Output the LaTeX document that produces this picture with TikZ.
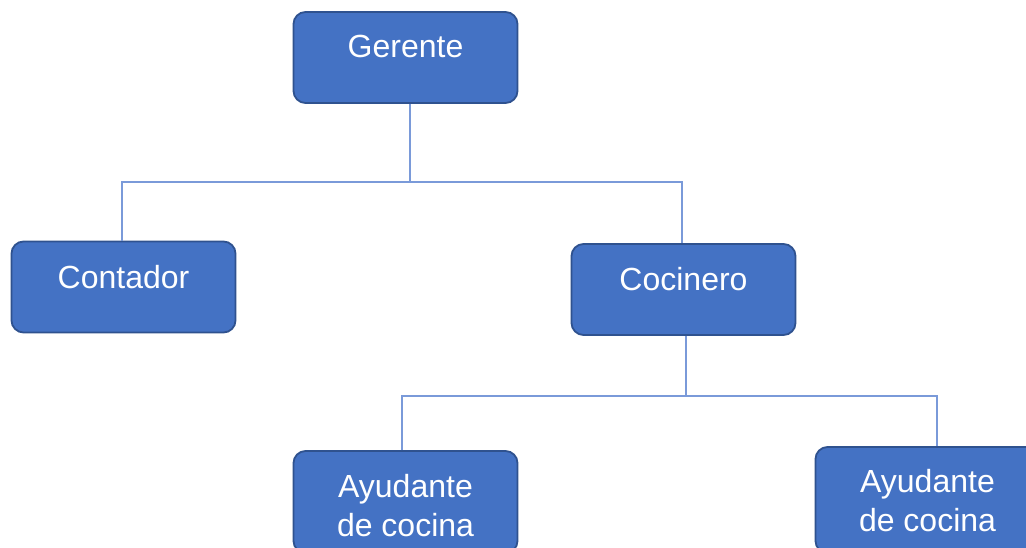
\documentclass[tikz,border=0pt]{standalone}
\usepackage{fontspec}
\setmainfont{Liberation Sans}
\definecolor{boxfill}{HTML}{4472C4}
\definecolor{boxedge}{HTML}{2F528F}
\definecolor{conncol}{HTML}{7A9AD9}
\begin{document}
\begin{tikzpicture}[x=1pt,y=-1pt,
  box/.style={draw=boxedge,fill=boxfill,line width=1.8pt,rounded corners=12pt,
    minimum width=224pt,minimum height=91pt,inner sep=0pt},
  txt/.style={text=white,font=\fontsize{32}{39}\selectfont,align=center,inner sep=0pt},
  conn/.style={draw=conncol,line width=1.3pt}]
\useasboundingbox (0,0) rectangle (1026,548);
% boxes
\node[box] (g) at (405.5,57.5) {};
\node[box] (c) at (123.5,287) {};
\node[box] (k) at (683.5,289.5) {};
\node[box,minimum height=102pt] (a1) at (405.5,502) {};
\node[box,minimum height=106pt] (a2) at (927.5,500) {};
% texts
\node[txt] (tg) at ([yshift=-35]g.north) {Gerente};
\node[txt] (tc) at ([yshift=-36]c.north) {Contador};
\node[txt] (tk) at ([yshift=-36]k.north) {Cocinero};
\node[txt] (ta1) at ([yshift=-55]a1.north) {Ayudante\\de cocina};
\node[txt] (ta2) at ([yshift=-54]a2.north) {Ayudante\\de cocina};
% connector coordinates
\coordinate (j1) at (410,182);
\coordinate (bl) at (122,182);
\coordinate (br) at (682,182);
\coordinate (j2) at (686,396);
\coordinate (al) at (402,396);
\coordinate (ar) at (937,396);
% connectors
\draw[conn] (g.south -| j1) -- (j1);
\draw[conn] (c.north -| bl) -- (bl) -- (br) -- (k.north -| br);
\draw[conn] (k.south -| j2) -- (j2);
\draw[conn] (a1.north -| al) -- (al) -- (ar) -- (a2.north -| ar);
\end{tikzpicture}
\end{document}
